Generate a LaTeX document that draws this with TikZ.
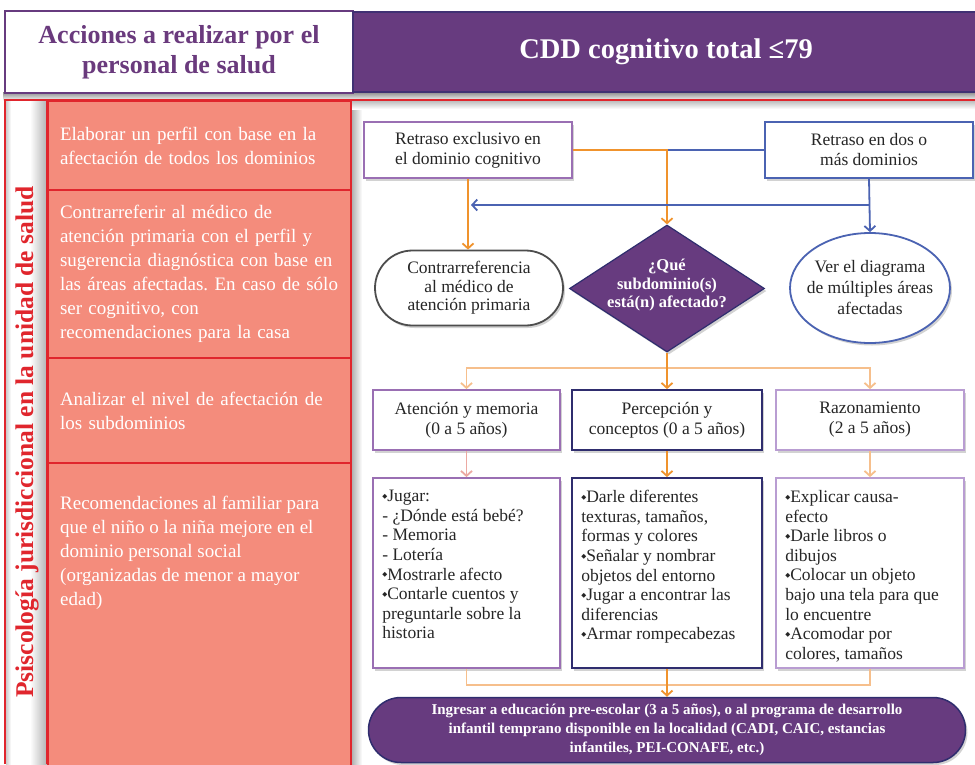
\documentclass[tikz,border=0pt]{standalone}
\usepackage{fontspec}
\setmainfont{Liberation Serif}
\newfontfamily\symfont{DejaVu Sans}
\usetikzlibrary{shapes.geometric,shapes.misc,shadows,arrows.meta,calc}

\definecolor{hdrpurple}{HTML}{673B7F}
\definecolor{txtpurple}{HTML}{6A3A7D}
\definecolor{redline}{HTML}{E0262D}
\definecolor{salmon}{HTML}{F48C7C}
\definecolor{orangeln}{HTML}{F0932D}
\definecolor{peachln}{HTML}{F6BF8C}
\definecolor{pinkln}{HTML}{ECA9A2}
\definecolor{blueln}{HTML}{4B63B2}
\definecolor{lilac}{HTML}{9A6FB3}
\definecolor{palelilac}{HTML}{B99DD2}
\definecolor{navy}{HTML}{2F2D6E}
\definecolor{greyln}{HTML}{4D4D4D}

\newcommand\bul{\raisebox{0.4ex}{\symfont\fontsize{6.5}{6.5}\selectfont ◆}}
\frenchspacing

\tikzset{
  softshadow/.style={drop shadow={opacity=0.35, shadow xshift=2pt, shadow yshift=-2.5pt}},
  flowbox/.style={draw, fill=white, line width=1.8pt, inner sep=0pt, align=center,
    text=black!85, font=\fontsize{17.5}{20}\selectfont, softshadow},
  listtext/.style={anchor=north west, inner sep=0pt, align=left,
    font=\fontsize{17.5}{19.6}\selectfont, text=black!85},
  sidebox/.style={draw=redline, fill=salmon, line width=2.2pt, inner xsep=12pt, inner ysep=0pt,
    minimum width=303pt, text width=279pt, align=left, text=white,
    font=\fontsize{19}{24}\selectfont},
  conn/.style={line width=1.8pt},
  tip/.style={-{Straight Barb[length=5pt,width=11pt]}},
}

\begin{document}
\begin{tikzpicture}[x=1pt,y=-1pt]
\useasboundingbox (0,0) rectangle (975,764);
\fill[white] (0,0) rectangle (975,764);

% header band
\shade[top color=black!45, bottom color=black!5] (3,92) rectangle (975,100);
\node[draw=hdrpurple, line width=2.5pt, fill=white, minimum width=348pt, minimum height=82pt,
  inner sep=0pt, align=center, text=txtpurple, font=\bfseries\fontsize{26}{30}\selectfont]
  (hl) at (179,52) {Acciones a realizar por el\\personal de salud};
\node[fill=hdrpurple, draw=navy!70!hdrpurple, line width=1.5pt, minimum width=626pt, minimum height=80pt,
  inner sep=0pt, text=white, font=\bfseries\fontsize{28.5}{30}\selectfont]
  (hr) at (666,52) {CDD cognitivo total ≤79};

% main frame
\fill[white] (5,100) rectangle (980,770);
\shade[left color=black!30, right color=white] (352,101) rectangle (362,764);
\shade[top color=black!25, bottom color=white] (352,101) rectangle (980,109);
\shade[left color=white, right color=black!30] (30,101) rectangle (47,764);
\shade[left color=black!20, right color=white] (6,101) rectangle (11,764);
\draw[redline, line width=2.5pt] (5,764) -- (5,100) -- (980,100);
\draw[redline, line width=2.2pt] (47,100) -- (47,764);

\node[rotate=90, text=redline, font=\bfseries\fontsize{25.5}{28}\selectfont]
  (side) at (27,442) {Psiscología jurisdiccional en la unidad de salud};

% actions column
\node[sidebox, minimum height=89pt] (s1) at (199.5,145.5)
  {Elaborar un perfil con base en la\\afectación de todos los dominios};
\node[sidebox, minimum height=168pt] (s2) at (199.5,274)
  {Contrarreferir al médico de\\atención primaria con el perfil y\\sugerencia diagnóstica con base en\\las áreas afectadas. En caso de sólo\\ser cognitivo, con\\recomendaciones para la casa};
\node[sidebox, minimum height=105pt] (s3) at (199.5,410.5)
  {Analizar el nivel de afectación de\\los subdominios};
\node[sidebox, minimum height=307pt] (s4) at (199.5,616.5) {};
\node[anchor=north west, inner sep=0pt, align=left, text=white, font=\fontsize{19}{24}\selectfont]
  (s4t) at (60,496) {Recomendaciones al familiar para\\que el niño o la niña mejore en el\\dominio personal social\\(organizadas de menor a mayor\\edad)};

% flowchart
\node[flowbox, draw=lilac, minimum width=208pt, minimum height=56pt] (r1) at (468,150)
  {Retraso exclusivo en\\el dominio cognitivo};
\node[flowbox, draw=blueln, minimum width=208pt, minimum height=56pt] (r2) at (869,150)
  {Retraso en dos o\\más dominios};
\node[flowbox, rounded rectangle, draw=greyln, minimum width=188pt, minimum height=75pt,
  font=\fontsize{17.5}{18.5}\selectfont] (cr) at (469,288)
  {Contrarreferencia\\al médico de\\atención primaria};
\node[flowbox, diamond, fill=hdrpurple, draw=navy, line width=1.2pt, minimum width=195pt,
  minimum height=127pt] (q) at (667,288.5) {};
\node[align=center, inner sep=0pt, text=white, font=\bfseries\fontsize{16.5}{18.5}\selectfont]
  (qt) at ([yshift=3pt]q.center) {¿Qué\\subdominio(s)\\está(n) afectado?};
\node[flowbox, ellipse, draw=blueln, minimum width=160pt, minimum height=110pt,
  inner xsep=-7pt, font=\fontsize{17.5}{21}\selectfont] (el) at (870,288)
  {Ver el diagrama\\de múltiples áreas\\afectadas};

\node[flowbox, draw=lilac, minimum width=187pt, minimum height=60pt] (a) at (466.5,420)
  {Atención y memoria\\(0 a 5 años)};
\node[flowbox, draw=navy, minimum width=190pt, minimum height=60pt] (b) at (667,420)
  {Percepción y\\conceptos (0 a 5 años)};
\node[flowbox, draw=palelilac, minimum width=188pt, minimum height=60pt] (c) at (870,420)
  {Razonamiento\\(2 a 5 años)};

\node[flowbox, draw=lilac, minimum width=187pt, minimum height=190pt] (la) at (466.5,573) {};
\node[flowbox, draw=navy, minimum width=190pt, minimum height=190pt] (lb) at (667,573) {};
\node[flowbox, draw=palelilac, minimum width=188pt, minimum height=190pt] (lc) at (870,573) {};
\node[listtext] (lat) at ($(la.north west)+(10,13)$)
  {\bul Jugar:\\- ¿Dónde está bebé?\\- Memoria\\- Lotería\\\bul Mostrarle afecto\\\bul Contarle cuentos y\\preguntarle sobre la\\historia};
\node[listtext] (lbt) at ($(lb.north west)+(10,13)$)
  {\bul Darle diferentes\\texturas, tamaños,\\formas y colores\\\bul Señalar y nombrar\\objetos del entorno\\\bul Jugar a encontrar las\\diferencias\\\bul Armar rompecabezas};
\node[listtext] (lct) at ($(lc.north west)+(10,13)$)
  {\bul Explicar causa-\\efecto\\\bul Darle libros o\\dibujos\\\bul Colocar un objeto\\bajo una tela para que\\lo encuentre\\\bul Acomodar por\\colores, tamaños};

\node[flowbox, rounded rectangle, fill=hdrpurple, draw=navy, line width=1.5pt, minimum width=597pt,
  minimum height=65pt, text=white, font=\bfseries\fontsize{15}{19}\selectfont] (fin) at (667,730)
  {Ingresar a educación pre-escolar (3 a 5 años), o al programa de desarrollo\\infantil temprano disponible en la localidad (CADI, CAIC, estancias\\infantiles, PEI-CONAFE, etc.)};

% connectors
\coordinate (bj) at (869,205);
\coordinate (sp) at (667,368);
\coordinate (jn) at (667,685);
\draw[conn, blueln] (r2.west) -- (r2.west -| q.north);
\draw[conn, orangeln, tip] (r1.east) -| (q.north);
\draw[conn, orangeln, tip] (r1.south) -- (r1.south |- cr.north);
\draw[conn, blueln, tip] (r2.south) -- (el.north);
\draw[conn, blueln, tip] (bj) -- ($(bj -| cr.north)+(2,0)$);
\draw[conn, peachln, tip] (sp) -| (a.north);
\draw[conn, peachln, tip] (sp) -| (c.north);
\draw[conn, orangeln] (q.south) -- (sp);
\draw[conn, orangeln, tip] (sp) -- (b.north);
\draw[conn, pinkln, tip] (a.south) -- (la.north);
\draw[conn, orangeln, tip] (b.south) -- (lb.north);
\draw[conn, peachln, tip] (c.south) -- (lc.north);
\draw[conn, peachln] (la.south) |- (jn) -| (lc.south);
\draw[conn, orangeln, tip] (lb.south) -- (fin.north);
\end{tikzpicture}
\end{document}
